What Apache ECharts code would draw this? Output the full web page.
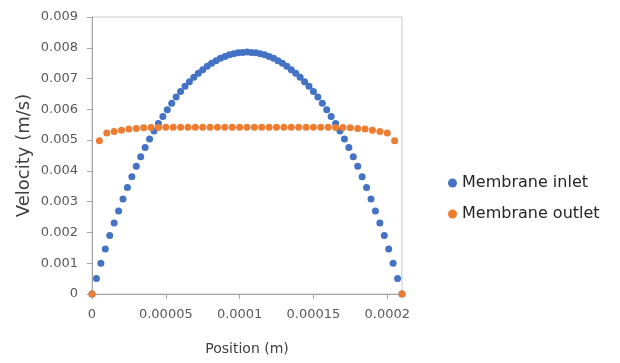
<!DOCTYPE html>
<html>
<head>
<meta charset="utf-8">
<script src="https://cdn.jsdelivr.net/npm/echarts@6/dist/echarts.min.js"></script>
<style>
  html, body { margin: 0; padding: 0; background: #fff; }
  #chart { width: 620px; height: 363px; }
</style>
</head>
<body>
<div id="chart"></div>
<script>
// positions in micrometres (axis labels show metres)
var inletPos = [0, 3, 6, 9, 12, 15, 18, 21, 24, 27, 30, 33, 36, 39, 42, 45, 48, 51, 54, 57,
    60, 63, 66, 69, 72, 75, 78, 81, 84, 87, 90, 93, 96, 99, 102, 105, 108, 111, 114, 117,
    120, 123, 126, 129, 132, 135, 138, 141, 144, 147, 150, 153, 156, 159, 162, 165, 168, 171, 174, 177,
    180, 183, 186, 189, 192, 195, 198, 201, 204, 207, 210];
var inletVel = [0, 0.00050, 0.00100, 0.00146, 0.00190, 0.00231, 0.00270, 0.00309, 0.00346, 0.00381,
    0.00415, 0.00446, 0.00476, 0.00504, 0.00530, 0.00554, 0.00577, 0.00599, 0.00620, 0.00640,
    0.00658, 0.00675, 0.00690, 0.00704, 0.00717, 0.00729, 0.00740, 0.00750, 0.00758, 0.00766,
    0.00772, 0.00777, 0.00781, 0.00784, 0.00785, 0.00786, 0.00785, 0.00784, 0.00781, 0.00777,
    0.00772, 0.00766, 0.00758, 0.00750, 0.00740, 0.00729, 0.00717, 0.00704, 0.00690, 0.00675,
    0.00658, 0.00640, 0.00620, 0.00599, 0.00577, 0.00554, 0.00530, 0.00504, 0.00476, 0.00446,
    0.00415, 0.00381, 0.00346, 0.00309, 0.00270, 0.00231, 0.00190, 0.00146, 0.00100, 0.00050, 0];

var outletPos = [0, 5, 10, 15, 20, 25, 30, 35, 40, 45, 50, 55, 60, 65, 70, 75, 80, 85, 90, 95,
    100, 105, 110, 115, 120, 125, 130, 135, 140, 145, 150, 155, 160, 165, 170, 175, 180, 185, 190, 195,
    200, 205, 210];
var outletVel = [0, 0.00498, 0.00523, 0.00528, 0.00532, 0.00536, 0.00538, 0.00540, 0.00541,
    0.00541, 0.00542, 0.00542, 0.00542, 0.00542, 0.00542, 0.00542, 0.00542, 0.00542, 0.00542,
    0.00542, 0.00542, 0.00542, 0.00542, 0.00542, 0.00542, 0.00542, 0.00542, 0.00542, 0.00542,
    0.00542, 0.00542, 0.00542, 0.00542, 0.00541,
    0.00541, 0.00540, 0.00538, 0.00536, 0.00532, 0.00528, 0.00523, 0.00498, 0];

var xTickLabels = ['0', '0.00005', '0.0001', '0.00015', '0.0002'];
var yTickLabels = ['0', '0.001', '0.002', '0.003', '0.004', '0.005', '0.006', '0.007', '0.008', '0.009'];

function pairs(xs, ys) {
    var out = [];
    for (var i = 0; i < xs.length; i++) out.push([xs[i], ys[i]]);
    return out;
}

var myChart = echarts.init(document.getElementById('chart'));
var font = 'DejaVu Sans';
var option = {
    animation: false,
    textStyle: { fontFamily: font },
    grid: {
        left: 92, right: 218, top: 17, bottom: 69,
        show: true,
        borderColor: '#c8c8c8',
        borderWidth: 1
    },
    legend: {
        orient: 'vertical',
        left: 443,
        top: 170,
        itemGap: 15,
        itemWidth: 9,
        itemHeight: 9,
        icon: 'circle',
        textStyle: { fontFamily: font, fontSize: 16, color: '#262626' },
        data: ['Membrane inlet', 'Membrane outlet']
    },
    xAxis: {
        type: 'value',
        min: 0,
        max: 210,
        interval: 50,
        name: 'Position (m)',
        nameLocation: 'middle',
        nameGap: 48,
        nameTextStyle: { fontFamily: font, fontSize: 14, color: '#404040' },
        axisLine: { show: true, onZero: false, lineStyle: { color: '#a6a6a6' } },
        axisTick: { show: true, inside: false, length: 5, lineStyle: { color: '#a6a6a6' } },
        splitLine: { show: false },
        axisLabel: {
            margin: 14,
            fontSize: 13,
            color: '#595959',
            showMaxLabel: false,
            formatter: function (v) {
                var k = Math.round(v / 50);
                return (Math.abs(v - k * 50) < 1e-6 && xTickLabels[k] != null) ? xTickLabels[k] : '';
            }
        }
    },
    yAxis: {
        type: 'value',
        min: 0,
        max: 0.009,
        interval: 0.001,
        name: 'Velocity (m/s)',
        nameLocation: 'middle',
        nameGap: 59,
        nameTextStyle: { fontFamily: font, fontSize: 18, color: '#404040' },
        axisLine: { show: true, lineStyle: { color: '#a6a6a6' } },
        axisTick: { show: true, inside: false, length: 5, lineStyle: { color: '#a6a6a6' } },
        splitLine: { show: false },
        axisLabel: {
            margin: 14,
            fontSize: 13,
            color: '#595959',
            formatter: function (v) {
                var k = Math.round(v / 0.001);
                return yTickLabels[k] != null ? yTickLabels[k] : '';
            }
        }
    },
    series: [
        {
            name: 'Membrane inlet',
            type: 'scatter',
            symbol: 'circle',
            symbolSize: 7,
            itemStyle: { color: '#4472C4', opacity: 1 },
            data: pairs(inletPos, inletVel),
            z: 2
        },
        {
            name: 'Membrane outlet',
            type: 'scatter',
            symbol: 'circle',
            symbolSize: 7,
            itemStyle: { color: '#ED7D31', opacity: 1 },
            data: pairs(outletPos, outletVel),
            z: 3
        }
    ]
};
myChart.setOption(option);
</script>
</body>
</html>
